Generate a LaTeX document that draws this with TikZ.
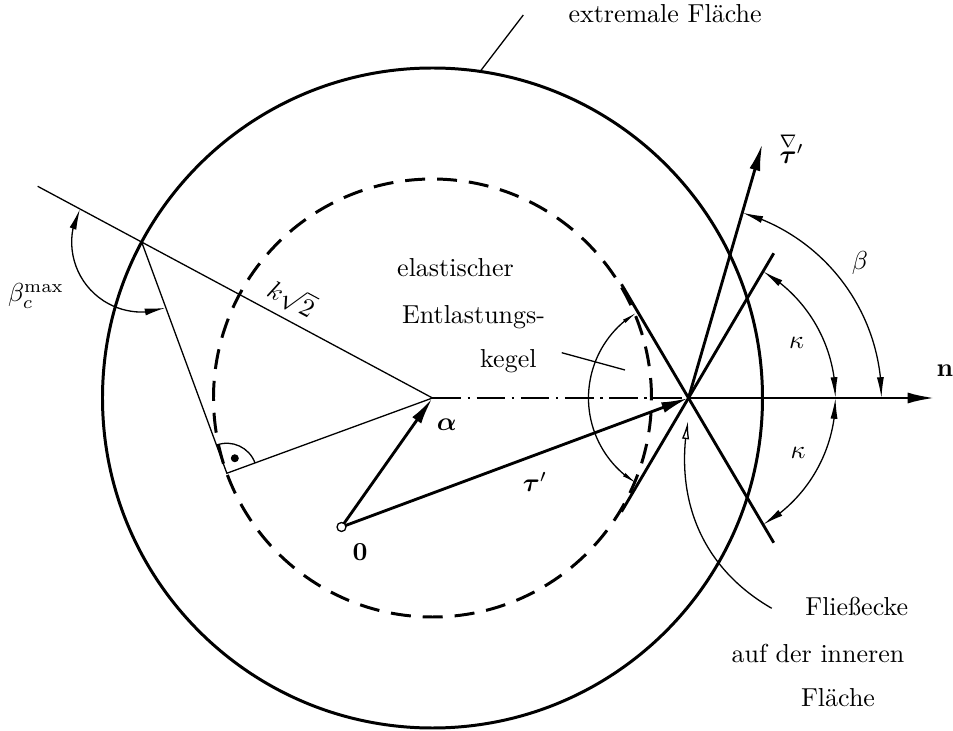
\documentclass[tikz,border=0pt]{standalone}
\usepackage{amsmath,amssymb}
\usepackage{tikz}
\usetikzlibrary{arrows.meta,bending,calc,positioning}

\begin{document}
\begin{tikzpicture}[
    x=0.385pt,y=0.385pt,
    surface/.style={line width=1.15pt},
    conebar/.style={line width=1.1pt},
    vect/.style={line width=1.1pt,-{Latex[length=10.5pt,width=4.2pt]}},
    thinline/.style={line width=0.5pt},
    angarrow/.style={line width=0.5pt,{Latex[length=8pt,width=2.7pt]}-{Latex[length=8pt,width=2.7pt]}},
    conearrow/.style={line width=0.5pt,{Latex[length=6pt,width=1.6pt]}-{Latex[length=6pt,width=1.6pt]}},
    lbl/.style={inner sep=0pt},
]
\useasboundingbox (-432.5,-333) rectangle (520.5,398);
\coordinate (C) at (0,0);
\coordinate (Y) at (256,0);
\coordinate (O) at (-91,-129);
\coordinate (P) at (151.8:330);
\coordinate (Pext) at (151.8:448);
\coordinate (F) at (200.1:219);
\coordinate (N) at (502.5,0);
\coordinate (T) at ($(Y)+(73.8:265)$);
\coordinate (A1) at ($(Y)+(59.5:168)$);
\coordinate (A2) at ($(Y)+(239.5:132)$);
\coordinate (B1) at ($(Y)+(120.5:132)$);
\coordinate (B2) at ($(Y)+(-59.5:168)$);
\coordinate (E) at (81.7:330);
\coordinate (Eend) at (90.8,383);
\coordinate (Kstart) at (129.2,45.3);
\coordinate (Kend) at (192.5,28);
\coordinate (FEstart) at (339.2,-210.3);
\coordinate (FEtip) at (255.5,-23);

\draw[surface] (C) circle[radius=330];
\draw[surface,dash pattern=on 7.7pt off 4.6pt] (C) circle[radius=219];

\draw[thinline] (Pext) -- (C);
\draw[thinline] (P) -- (F) -- (C);
\draw[thinline] ($(F)+(20:30)$) arc[start angle=20,end angle=110,radius=30];
\fill ($(F)+(62:17)$) circle[radius=4];
\draw[angarrow] ($(P)+(151.8:70)$) arc[start angle=151.8,end angle=289.9,radius=70];

\draw[thinline,dash pattern=on 11pt off 2.5pt on 1pt off 2.5pt] (C) -- (Y);
\draw[conebar] (A2) -- (A1);
\draw[conebar] (B1) -- (B2);
\draw[conearrow] ($(Y)+(121:100)$) arc[start angle=121,end angle=239,radius=100];

\draw[vect] (O) -- (C);
\draw[vect] (O) -- (Y);
\draw[vect] (Y) -- (N);
\draw[vect] (Y) -- (T);
\draw[thinline,fill=white] (O) circle[radius=4.5];

\draw[angarrow] ($(Y)+(0:193)$) arc[start angle=0,end angle=73.8,radius=193];
\draw[angarrow] ($(Y)+(0:147)$) arc[start angle=0,end angle=59.5,radius=147];
\draw[angarrow] ($(Y)+(0:147)$) arc[start angle=0,end angle=-59.5,radius=147];

\draw[thinline] (E) -- (Eend);
\draw[thinline] (Kstart) -- (Kend);
\draw[thinline,-{Latex[open,length=7pt,width=2.8pt]}] (FEstart) to[out=150,in=-100] (FEtip);

\node[lbl,anchor=base west] (extremal) at (135.5,375.3) {extremale Fläche};
\node[lbl,anchor=base west] (elast) at (-35.8,121.3) {elastischer};
\node[lbl,anchor=base west] (entl) at (-30.8,74.7) {Entlastungs-};
\node[lbl,anchor=base east] (kegel) at (104.5,30) {kegel};
\node (bcmax) at (-396.5,102) {$\beta_c^{\max}$};
\node[rotate=-28.2] (ksq) at (-140.5,100) {$k\sqrt{2}$};
\node (alpha) at (14.2,-27) {$\boldsymbol{\alpha}$};
\node (tau) at (102.5,-83.7) {$\boldsymbol{\tau}'$};
\node (zero) at (-72.5,-153.7) {$\mathbf{0}$};
\node (taurate) at (359.2,250) {$\overset{\nabla}{\boldsymbol{\tau}}{}'$};
\node (normal) at (512.5,27) {$\mathbf{n}$};
\node (beta) at (427.5,135) {$\beta$};
\node (kappaup) at (364.2,54.7) {$\kappa$};
\node (kappalow) at (365.5,-55) {$\kappa$};
\node (corner1) at (424.2,-208.7) {Fließecke};
\node (corner2) at (385.5,-255) {auf der inneren};
\node (corner3) at (405.5,-300) {Fläche};
\end{tikzpicture}
\end{document}
